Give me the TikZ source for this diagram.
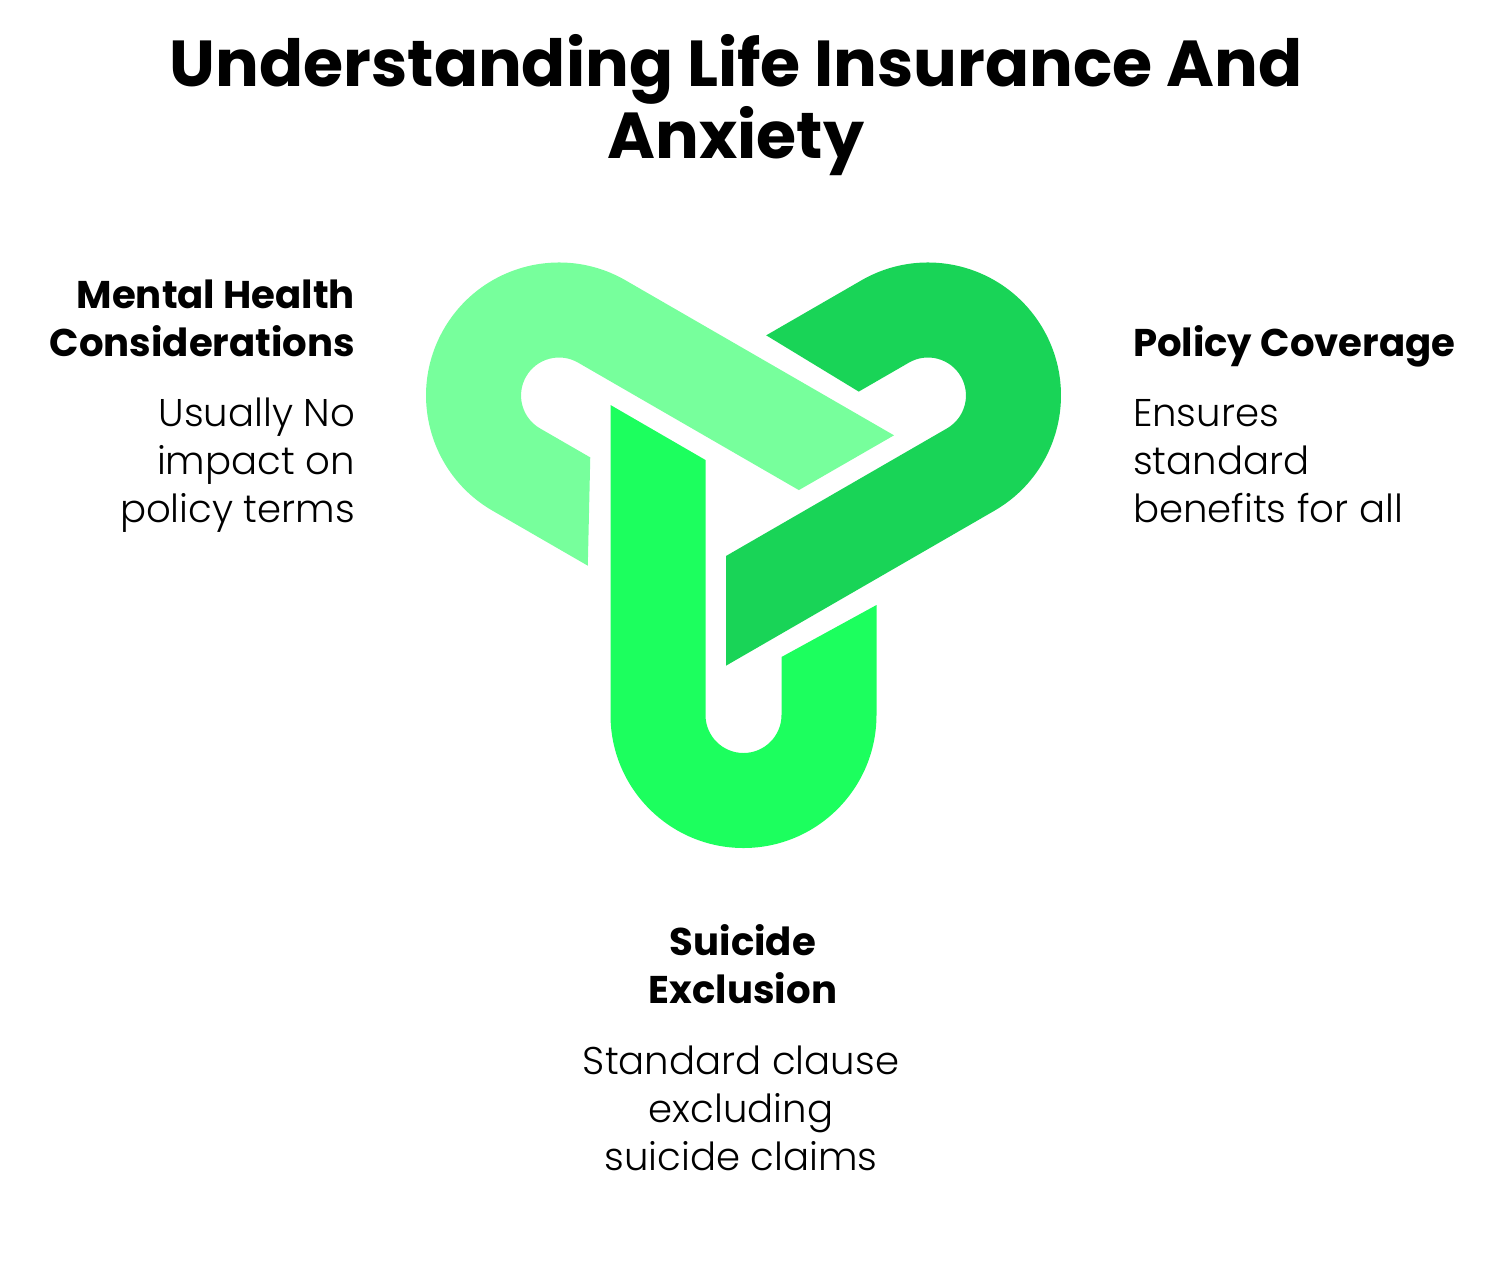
\documentclass[tikz,border=0pt]{standalone}
\usepackage{fontspec}
\setmainfont{Poppins}
\newfontfamily\poplight{Poppins Light}
\begin{document}
\begin{tikzpicture}
[x=0.02cm, y=0.02cm, inner sep=0pt, outer sep=0pt,
head/.style={font=\bfseries\fontsize{22}{27.2}\selectfont},
body/.style={font=\poplight\fontsize{22}{27.2}\selectfont},
band/.style={draw=none}]

\useasboundingbox (0,0) rectangle (1512,-1272);

% one U-shaped band, arc centre at the origin
\def\ushape{(-133,310) -- (-133,0) arc (180:360:133) -- (133,110) -- (38,58)
  -- (38,0) arc (0:-180:38) -- (-38,255) -- cycle}

\coordinate (mid) at (743.5,-502);

\begin{scope}[shift={(mid)}]
  \fill[band, fill={rgb,255:red,28;green,255;blue,94}]
    [shift={(0,-213)}] \ushape;
  \fill[band, fill={rgb,255:red,25;green,212;blue,87}, rotate=120]
    [shift={(0,-213)}] \ushape;
  \fill[band, fill={rgb,255:red,119;green,255;blue,156}, rotate=240]
    [shift={(0,-213)}] \ushape;
\end{scope}

\node[font=\bfseries\fontsize{37}{39.7}\selectfont, align=center, anchor=base]
  (title) at (736,-158) {Understanding Life Insurance And\\Anxiety};

\node[head, align=right, anchor=base east] (mental) at (355,-356)
  {Mental Health\\Considerations};
\node[body, align=right, anchor=base east] (mentaltxt) at (355,-522)
  {Usually No\\impact on\\policy terms};

\node[head, align=left, anchor=base west] (policy) at (1133,-356)
  {Policy Coverage};
\node[body, align=left, anchor=base west] (policytxt) at (1133,-522)
  {Ensures\\standard\\benefits for all};

\node[head, align=center, anchor=base] (suicide) at (743,-1003)
  {Suicide\\Exclusion};
\node[body, align=center, anchor=base] (suicidetxt) at (741,-1170)
  {Standard clause\\excluding\\suicide claims};

\end{tikzpicture}
\end{document}
